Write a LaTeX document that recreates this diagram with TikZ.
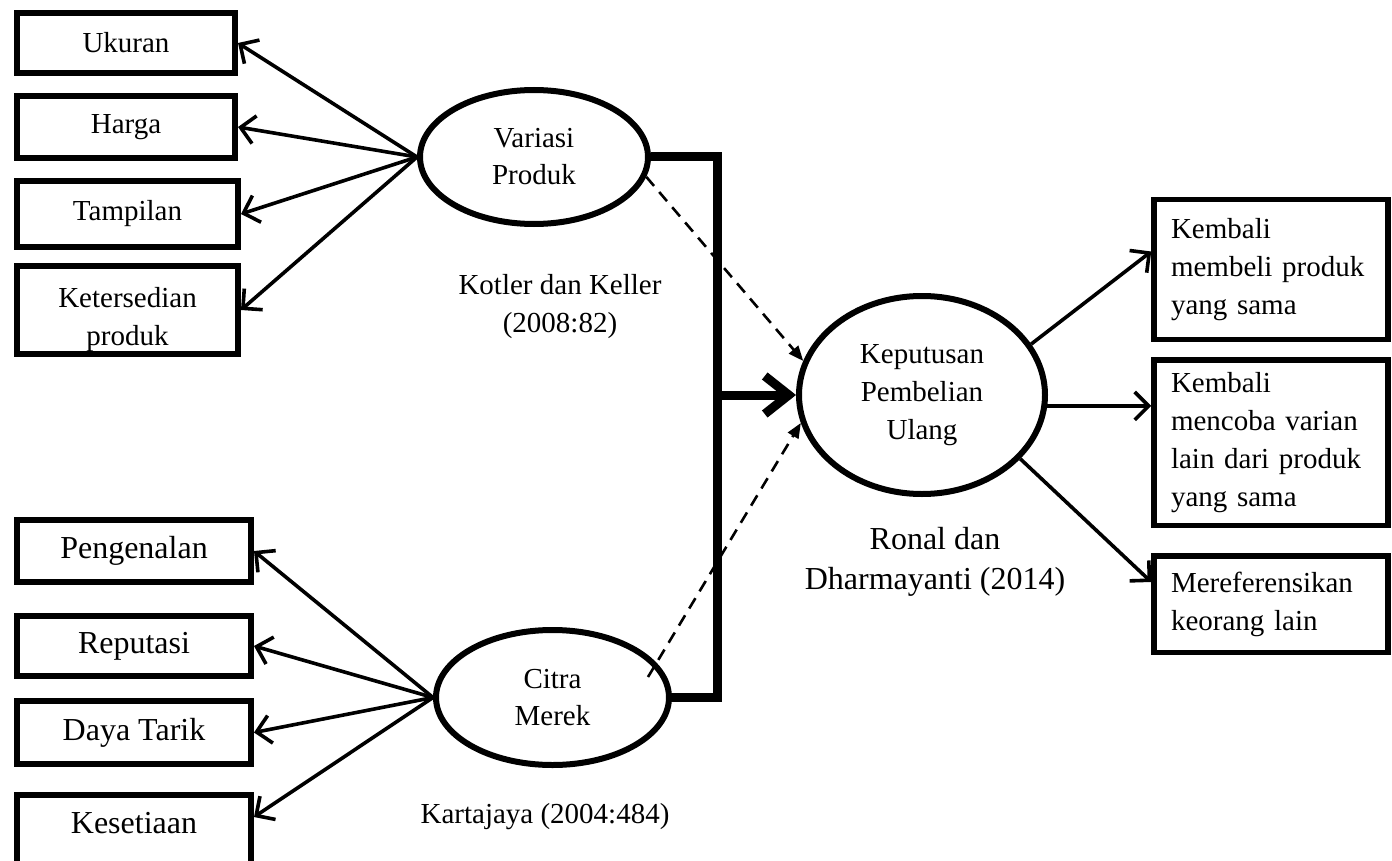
\documentclass[tikz,border=0pt]{standalone}
\usepackage{fontspec}
\setmainfont{Liberation Serif}
\usetikzlibrary{arrows.meta,shapes.geometric,calc}
\begin{document}
\begin{tikzpicture}[x=1pt,y=-1pt,
  lbox/.style={draw,line width=6pt,inner sep=0pt,align=center,font=\fontsize{29}{38}\selectfont},
  bbox/.style={draw,line width=6pt,inner sep=0pt,align=center,minimum width=234pt,font=\fontsize{32}{40}\selectfont},
  rbox/.style={draw,line width=5.5pt,inner xsep=17pt,inner ysep=0pt,text width=200pt,align=left,font=\fontsize{29}{38}\selectfont},
  lat/.style={draw,ellipse,line width=6pt,inner sep=0pt,align=center,font=\fontsize{29}{37}\selectfont},
  lbl/.style={align=center,inner sep=0pt,font=\fontsize{29}{38}\selectfont},
  arr/.style={line width=3.6pt,-{Straight Barb[length=14pt,width=28pt]}},
  dsh/.style={line width=2.6pt,dash pattern=on 12pt off 8pt,-{Triangle[length=15pt,width=12pt]}},
  thk/.style={line width=9pt},
]
\useasboundingbox (0,0) rectangle (1392,861);

% upper-left indicator boxes
\node[lbox,minimum width=218pt,minimum height=60pt] (uk) at (126,43) {Ukuran};
\node[lbox,minimum width=218pt,minimum height=62pt] (hg) at (126,127) {Harga};
\node[lbox,minimum width=221pt,minimum height=66pt] (tp) at (127.5,214) {Tampilan};
\node[lbl] (kst) at (127.5,320) {Ketersedian\\produk};
\node[lbox,minimum width=221pt,minimum height=88pt] (ks) at (127.5,310) {};

% lower-left indicator boxes
\node[bbox,minimum height=62pt] (pg) at (134,551) {Pengenalan};
\node[bbox,minimum height=60pt] (rp) at (134,646) {Reputasi};
\node[bbox,minimum height=63pt] (dt) at (134,732.5) {Daya Tarik};
\draw[line width=6pt] (17,875) |- (251,795) -- (251,875);
\node[lbl,font=\fontsize{32}{40}\selectfont] (kse) at (134,823) {Kesetiaan};
\coordinate (kesR) at (254,817);

% latent variables
\node[lat,minimum width=228pt,minimum height=134pt] (vp) at (534,157) {Variasi\\Produk};
\node[lat,minimum width=233pt,minimum height=135pt] (cm) at (552.5,697.5) {Citra\\Merek};
\node[lat,minimum width=246pt,minimum height=198pt,font=\fontsize{29}{38}\selectfont] (kp) at (922,395) {Keputusan\\Pembelian\\Ulang};

% source labels
\node[lbl] (kot) at (560,307) {Kotler dan Keller\\(2008:82)};
\node[lbl] (kar) at (545,817) {Kartajaya (2004:484)};
\node[lbl,font=\fontsize{32}{40}\selectfont] (ron) at (935,562) {Ronal dan\\Dharmayanti (2014)};

% right indicator boxes
\node[rbox,minimum width=232.5pt,minimum height=139.5pt] (rb1) at (1271,269.5) {Kembali\\membeli produk\\yang sama};
\node[rbox,minimum width=232.5pt,minimum height=165.5pt] (rb2) at (1271,442.5) {Kembali\\mencoba varian\\lain dari produk\\yang sama};
\node[rbox,minimum width=232.5pt,minimum height=96.5pt] (rb3) at (1271,604) {Mereferensikan\\keorang lain};

% arrows to indicators
\foreach \b in {uk,hg,tp,ks} \draw[arr] (vp.west) -- (\b.east);
\foreach \b in {pg,rp,dt} \draw[arr] (cm.west) -- (\b.east);
\draw[arr] (cm.west) -- (kesR);

% bracket and main arrow
\coordinate (bx) at (717,395);
\draw[thk] (vp.east) -| (bx) |- (cm.east);
\draw[thk,-{Straight Barb[length=24pt,width=38pt]}] (bx) -- (kp.west);

% dashed partial arrows
\draw[dsh] (vp.-10) -- (kp.164);
\coordinate (cmd) at (648,677);
\draw[dsh] (cmd) -- (kp.193);

% right arrows
\draw[arr] (kp.25) -- ([yshift=18pt]rb1.west);
\draw[arr] (kp.-5) -- (kp.-5 -| rb2.west);
\draw[arr] (kp.-33) -- ([yshift=22pt]rb3.west);
\end{tikzpicture}
\end{document}
